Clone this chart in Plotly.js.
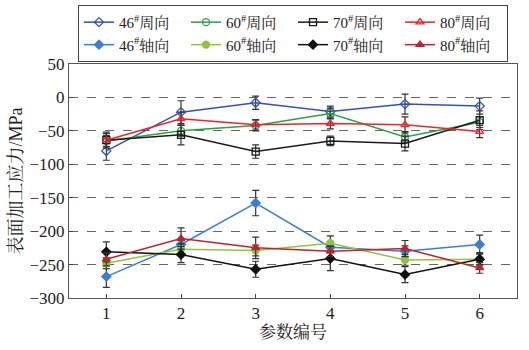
<!DOCTYPE html>
<html><head><meta charset="utf-8">
<script src="https://cdn.plot.ly/plotly-3.0.1.min.js"></script>
<style>body{margin:0;background:#fff}#c{width:529px;height:350px}</style>
</head><body><div id="c"></div>
<script>
const params = [1, 2, 3, 4, 5, 6];
const names = ['46<sup>#</sup>周向','60<sup>#</sup>周向','70<sup>#</sup>周向','80<sup>#</sup>周向','46<sup>#</sup>轴向','60<sup>#</sup>轴向','70<sup>#</sup>轴向','80<sup>#</sup>轴向'];
const c46 = [-80, -22, -8, -21, -10, -13];
const c60 = [-65, -50, -42, -24, -59, -37];
const c70 = [-64, -56, -81, -65, -69, -34];
const c80 = [-64, -32, -41, -39, -41, -51];
const a46 = [-268, -220, -158, -224, -230, -220];
const a60 = [-248, -227, -229, -218, -243, -242];
const a70 = [-231, -235, -257, -241, -265, -242];
const a80 = [-242, -211, -225, -230, -226, -255];
const e_c46 = [14, 17, 10, 8, 15, 12];
const e_c60 = [8, 8, 8, 8, 8, 8];
const e_c70 = [10, 15, 10, 7, 11, 14];
const e_c80 = [12, 10, 8, 8, 12, 9];
const e_a46 = [16, 8, 19, 8, 8, 14];
const e_a60 = [8, 8, 8, 11, 8, 8];
const e_a70 = [15, 12, 12, 18, 12, 10];
const e_a80 = [10, 16, 16, 8, 12, 8];

const series = [
  [c46, e_c46, '#3550b0', 'diamond-open'],
  [c60, e_c60, '#2e9e48', 'circle-open'],
  [c70, e_c70, '#1a1a1a', 'square-open'],
  [c80, e_c80, '#e8262a', 'triangle-up-open'],
  [a46, e_a46, '#3b7fd0', 'diamond'],
  [a60, e_a60, '#8cc63e', 'circle'],
  [a70, e_a70, '#111111', 'diamond'],
  [a80, e_a80, '#b8262c', 'triangle-up']
];
const traces = series.map((s, i) => ({
  x: params, y: s[0], name: names[i], type: 'scatter', mode: 'lines+markers',
  line: {color: s[2], width: 1.5},
  marker: {symbol: s[3], size: 7, color: s[2], line: {color: s[2], width: 1.3}},
  error_y: {type: 'data', array: s[1], visible: true, color: '#333', thickness: 1.2, width: 3.5}
}));
const font = 'Liberation Serif, "Noto Serif CJK SC", "Noto Sans CJK SC", serif';
Plotly.newPlot('c', traces, {
  width: 529, height: 350,
  margin: {l: 69, r: 12, t: 64, b: 52},
  paper_bgcolor: '#fff', plot_bgcolor: '#fff',
  font: {family: font, size: 17, color: '#222'},
  showlegend: true,
  legend: {orientation: 'h', x: 0.5, xanchor: 'center', xref: 'paper',
    y: 0.986, yanchor: 'top', yref: 'container',
    entrywidth: 62, bordercolor: '#444', borderwidth: 1, font: {size: 15},
    tracegroupgap: 0, itemwidth: 30},
  xaxis: {range: [0.5, 6.5], tickvals: params, ticks: 'inside', ticklen: 4,
    showline: true, mirror: true, linecolor: '#555', linewidth: 1, showgrid: false, zeroline: false,
    title: {text: '参数编号', font: {size: 17}, standoff: 2}},
  yaxis: {range: [-300, 50], dtick: 50, ticks: 'inside', ticklen: 4,
    showline: true, mirror: true, linecolor: '#555', linewidth: 1,
    showgrid: true, gridcolor: '#666', griddash: 'dash', gridwidth: 1, zeroline: false,
    tickformat: 'd',
    title: {text: '表面加工应力/MPa', font: {size: 18}, standoff: 2}}
}, {displayModeBar: false});
</script></body></html>
